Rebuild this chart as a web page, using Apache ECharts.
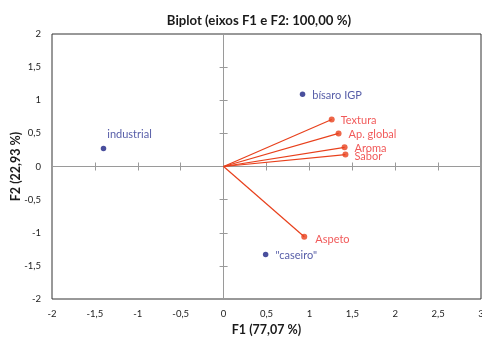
<!DOCTYPE html>
<html><head><meta charset="utf-8">
<script src="https://cdn.jsdelivr.net/npm/echarts@6/dist/echarts.min.js"></script>
<style>html,body{margin:0;padding:0;background:#fff}#c{width:482px;height:338px}</style>
</head><body><div id="c"></div>
<script>
const obsNames = ['bísaro IGP', 'industrial', '"caseiro"'];
const obsF1 = [0.92, -1.40, 0.49];
const obsF2 = [1.09, 0.27, -1.33];
const varNames = ['Textura', 'Ap. global', 'Aroma', 'Sabor', 'Aspeto'];
const varF1 = [1.26, 1.34, 1.41, 1.42, 0.94];
const varF2 = [0.71, 0.50, 0.29, 0.18, -1.06];
const xTicks = {min: -2, max: 3, interval: 0.5};
const yTicks = {min: -2, max: 2, interval: 0.5};

const FONT = 'Lato';
const BLUE = '#1b2385', BLUE_T = '#2b3391', RED = '#e8401c', RED_T = '#ee3030';
const fmt = v => String(v).replace('.', ',');

const chart = echarts.init(document.getElementById('c'));
const obsLabelCfg = [
  {position: 'right', distance: 7, offset: [0, 1]},
  {position: 'top', distance: 6, offset: [26, 0]},
  {position: 'right', distance: 7, offset: [0, 1]}
];
const varLabelCfg = [
  {position: 'right', distance: 6, offset: [0, 1]},
  {position: 'right', distance: 7, offset: [0, 1]},
  {position: 'right', distance: 7, offset: [0, 1]},
  {position: 'right', distance: 6, offset: [0, 2]},
  {position: 'right', distance: 8, offset: [0, 3]}
];

const centerAxis = (inside) => ({
  type: 'value', show: true, gridIndex: 0,
  axisLine: {show: !inside, onZero: true, lineStyle: {color: '#9a9a9a', width: 1}},
  axisTick: {show: true, inside: inside, length: 4, lineStyle: {color: '#9a9a9a'}},
  axisLabel: {show: false}, splitLine: {show: false}
});

chart.setOption({
  animation: false,
  textStyle: {fontFamily: FONT},
  title: {
    text: 'Biplot (eixos F1 e F2: 100,00 %)', left: 254, top: 9, textAlign: 'center',
    textStyle: {fontFamily: FONT, fontSize: 13.2, fontWeight: 'bold', color: '#1a1a1a'}
  },
  grid: {left: 52, right: 1, top: 34, bottom: 39, containLabel: false, outerBoundsMode: 'none',
    show: true, borderColor: '#333', borderWidth: 1, backgroundColor: 'transparent'},
  xAxis: [
    Object.assign({type: 'value', position: 'bottom',
      name: 'F1 (77,07 %)', nameLocation: 'middle', nameGap: 24, nameMoveOverlap: false,
      nameTextStyle: {fontFamily: FONT, fontSize: 12.5, fontWeight: 'bold', color: '#1a1a1a'},
      axisLine: {show: false, onZero: false}, axisTick: {show: false},
      axisLabel: {formatter: fmt, fontSize: 9.5, color: '#222', margin: 10, fontFamily: FONT, showMaxLabel: true},
      splitLine: {show: false}}, xTicks),
    Object.assign(centerAxis(false), xTicks),
    Object.assign(centerAxis(true), xTicks)
  ],
  yAxis: [
    Object.assign({type: 'value', position: 'left',
      name: 'F2 (22,93 %)', nameLocation: 'middle', nameGap: 30, nameMoveOverlap: false,
      nameTextStyle: {fontFamily: FONT, fontSize: 12.5, fontWeight: 'bold', color: '#1a1a1a'},
      axisLine: {show: false, onZero: false}, axisTick: {show: false},
      axisLabel: {formatter: fmt, fontSize: 9.5, color: '#222', margin: 11, fontFamily: FONT},
      splitLine: {show: false}}, yTicks),
    Object.assign(centerAxis(false), yTicks),
    Object.assign(centerAxis(true), yTicks)
  ],
  series: [
    {
      type: 'lines', coordinateSystem: 'cartesian2d', xAxisIndex: 0, yAxisIndex: 0,
      lineStyle: {color: RED, width: 1.2, opacity: 1}, symbol: 'none',
      data: varNames.map((n, i) => ({coords: [[0, 0], [varF1[i], varF2[i]]]}))
    },
    {
      type: 'scatter', xAxisIndex: 0, yAxisIndex: 0, symbolSize: 6,
      itemStyle: {color: RED},
      data: varNames.map((n, i) => ({
        value: [varF1[i], varF2[i]], name: n,
        label: Object.assign({show: true, formatter: n, color: RED_T, fontSize: 11, fontFamily: FONT}, varLabelCfg[i])
      }))
    },
    {
      type: 'scatter', xAxisIndex: 0, yAxisIndex: 0, symbolSize: 5.5,
      itemStyle: {color: BLUE},
      data: obsNames.map((n, i) => ({
        value: [obsF1[i], obsF2[i]], name: n,
        label: Object.assign({show: true, formatter: n, color: BLUE_T, fontSize: 11, fontFamily: FONT}, obsLabelCfg[i])
      }))
    }
  ]
});
</script></body></html>
